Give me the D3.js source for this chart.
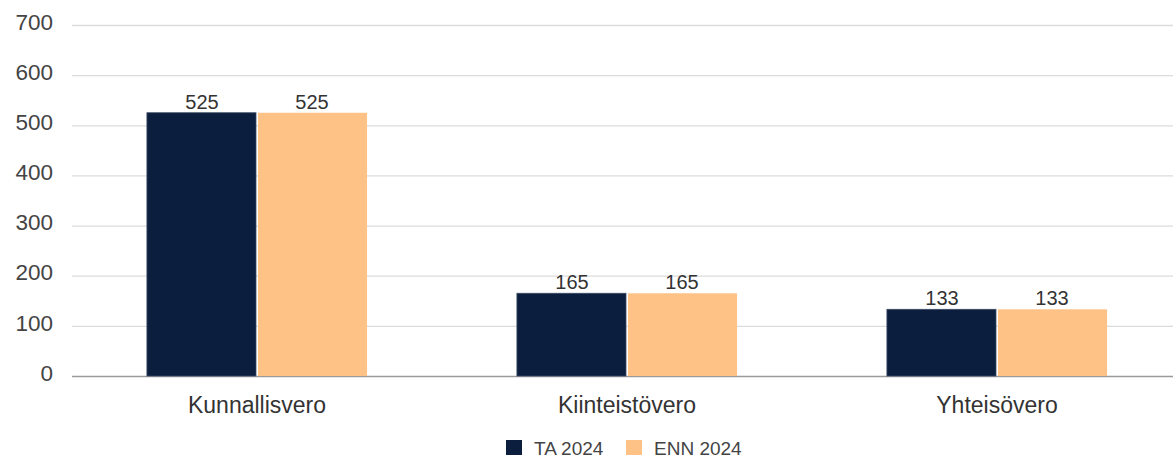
<!DOCTYPE html>
<html>
<head>
<meta charset="utf-8">
<script src="https://cdn.jsdelivr.net/npm/d3@7"></script>
<style>
    body { margin: 0; background: #fff; }
    text { font-family: "Liberation Sans", Arial, sans-serif; }
</style>
</head>
<body>
<svg id="chart"></svg>
<script>
const categories = ['Kunnallisvero', 'Kiinteistövero', 'Yhteisövero']
const seriesNames = ['TA 2024', 'ENN 2024']
const ta2024 = [525, 165, 133]
const enn2024 = [525, 165, 133]
const yTicks = [0, 100, 200, 300, 400, 500, 600, 700]
const colors = ['#0c1e3d', '#ffc286']

const width = 1173
const height = 459
const margins = { top: 25, left: 72, right: -9, bottom: 83 }

const svg = d3.select('#chart')
    .attr('width', width)
    .attr('height', height)

const x = d3.scaleBand()
    .domain(categories)
    .range([margins.left, width - margins.right])
    .paddingInner(0.405)
    .paddingOuter(0.2025)

const xInner = d3.scaleBand()
    .domain(seriesNames)
    .range([0, x.bandwidth()])

const y = d3.scaleLinear()
    .domain([0, 700])
    .range([height - margins.bottom, margins.top])

// gridlines
svg.append('g')
    .selectAll('line')
    .data(yTicks)
    .join('line')
    .attr('x1', margins.left)
    .attr('x2', width)
    .attr('y1', d => y(d) + 0.5)
    .attr('y2', d => y(d) + 0.5)
    .attr('stroke', d => d === 0 ? '#9a9a9a' : '#dcdcdc')
    .attr('stroke-width', 1.3)

// y labels
const yAxis = svg.append('g')
    .attr('transform', `translate(${margins.left - 19},-3)`)
    .call(d3.axisLeft(y).tickValues(yTicks).tickSize(0).tickPadding(0))
yAxis.select('.domain').remove()
yAxis.selectAll('text')
    .attr('font-size', 22.5)
    .attr('fill', '#444')
    .attr('font-family', '"Liberation Sans", Arial, sans-serif')

const rows = categories.map((c, i) => ({ cat: c, values: [ta2024[i], enn2024[i]] }))

const groups = svg.append('g')
    .selectAll('g')
    .data(rows)
    .join('g')
    .attr('transform', d => `translate(${x(d.cat)},0)`)

groups.selectAll('rect')
    .data(d => d.values.map((v, j) => ({ name: seriesNames[j], v: v, j: j })))
    .join('rect')
    .attr('x', d => xInner(d.name) + (d.j === 0 ? 0 : 1))
    .attr('width', d => xInner.bandwidth() - 1)
    .attr('y', d => y(d.v))
    .attr('height', d => y(0) - y(d.v))
    .attr('fill', d => colors[d.j])
    .attr('stroke', d => d.j === 0 ? '#3a4a66' : 'none')
    .attr('stroke-width', 0.8)

groups.selectAll('text.val')
    .data(d => d.values.map((v, j) => ({ name: seriesNames[j], v: v })))
    .join('text')
    .attr('class', 'val')
    .attr('x', d => xInner(d.name) + xInner.bandwidth() / 2)
    .attr('y', d => y(d.v) - 4)
    .attr('text-anchor', 'middle')
    .attr('font-size', 20)
    .attr('fill', '#333')
    .text(d => d.v)

// category labels
svg.append('g')
    .selectAll('text')
    .data(categories)
    .join('text')
    .attr('x', d => x(d) + x.bandwidth() / 2)
    .attr('y', y(0) + 37)
    .attr('text-anchor', 'middle')
    .attr('font-size', 23)
    .attr('fill', '#333')
    .text(d => d)

// legend
const legendX = [506, 626]
const legend = svg.append('g')
    .selectAll('g')
    .data(seriesNames)
    .join('g')
    .attr('transform', (d, i) => `translate(${legendX[i]},440)`)
legend.append('rect')
    .attr('width', 16)
    .attr('height', 15)
    .attr('fill', (d, i) => colors[i])
legend.append('text')
    .attr('x', 28)
    .attr('y', 15)
    .attr('font-size', 19)
    .attr('fill', '#444')
    .text(d => d)
</script>
</body>
</html>
